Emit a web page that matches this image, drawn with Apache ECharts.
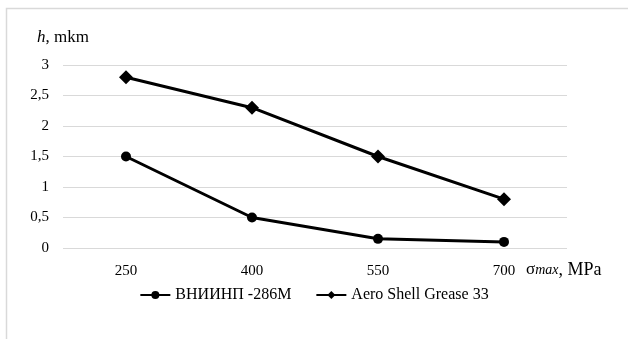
<!DOCTYPE html>
<html>
<head>
<meta charset="utf-8">
<script src="https://cdn.jsdelivr.net/npm/echarts@6/dist/echarts.min.js"></script>
<style>
  html, body { margin: 0; padding: 0; background: #fff; }
  #chart { width: 628px; height: 339px; }
</style>
</head>
<body>
<div id="chart"></div>
<script>
// x categories (sigma max, MPa)
const categories = ['250', '400', '550', '700'];
// wear depth h, mkm
const vniinp = [1.5, 0.5, 0.15, 0.1];
const aeroShell = [2.8, 2.3, 1.5, 0.8];
const seriesNames = ['ВНИИНП -286М', 'Aero Shell Grease 33'];

const chart = echarts.init(document.getElementById('chart'));
const font = 'Liberation Serif, Times New Roman, serif';

const option = {
  animation: false,
  textStyle: { fontFamily: font },
  graphic: [
    {
      type: 'rect',
      shape: { x: 6.5, y: 8.5, width: 640, height: 340 },
      style: { fill: 'none', stroke: '#d9d9d9', lineWidth: 1.5 },
      silent: true
    },
    {
      type: 'text', left: 37, top: 29,
      style: {
        rich: {
          i: { fontFamily: font, fontStyle: 'italic', fontSize: 17, fill: '#000' },
          n: { fontFamily: font, fontSize: 17, fill: '#000' }
        },
        text: '{i|h}{n|, mkm}'
      }
    },
    {
      type: 'text', left: 526, top: 261,
      style: {
        rich: {
          s: { fontFamily: font, fontSize: 17, fill: '#000' },
          i: { fontFamily: font, fontStyle: 'italic', fontSize: 14, fill: '#000' },
          n: { fontFamily: font, fontSize: 18, fill: '#000' }
        },
        text: '{s|σ}{i|max}{n|, MPa}'
      }
    }
  ],
  grid: { left: 63, right: 61, top: 65, bottom: 91 },
  legend: {
    bottom: 31,
    left: 'center',
    itemWidth: 30,
    itemHeight: 10,
    itemGap: 24,
    textStyle: { fontFamily: font, fontSize: 16, color: '#000' },
    data: seriesNames
  },
  xAxis: {
    type: 'category',
    data: categories,
    boundaryGap: true,
    axisLine: { show: false },
    axisTick: { show: false },
    axisLabel: { fontFamily: font, fontSize: 15, color: '#000', margin: 16 }
  },
  yAxis: {
    type: 'value',
    min: 0,
    max: 3,
    interval: 0.5,
    axisLine: { show: false },
    axisTick: { show: false },
    splitLine: { lineStyle: { color: '#d9d9d9', width: 1 } },
    axisLabel: {
      fontFamily: font, fontSize: 15, color: '#000', margin: 14,
      formatter: v => String(v).replace('.', ',')
    }
  },
  series: [
    {
      name: seriesNames[0],
      type: 'line',
      data: vniinp,
      symbol: 'circle',
      symbolSize: 10,
      lineStyle: { color: '#000', width: 3 },
      itemStyle: { color: '#000' }
    },
    {
      name: seriesNames[1],
      type: 'line',
      data: aeroShell,
      symbol: 'diamond',
      symbolSize: 14,
      lineStyle: { color: '#000', width: 3 },
      itemStyle: { color: '#000' }
    }
  ]
};

chart.setOption(option);
</script>
</body>
</html>
